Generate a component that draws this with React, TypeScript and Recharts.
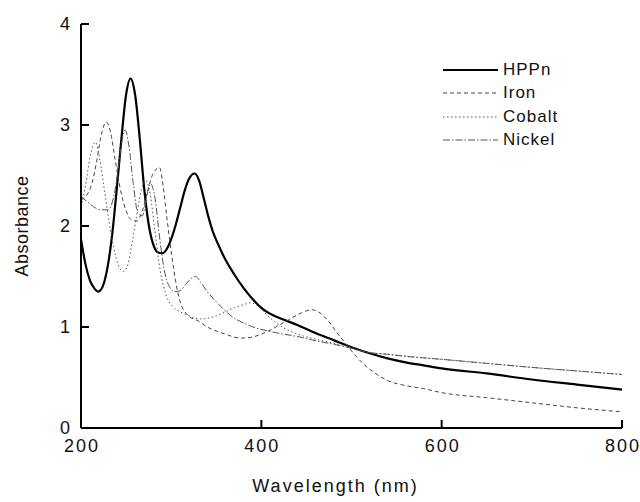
import React from 'react';
import { LineChart, Line, XAxis, YAxis } from 'recharts';

// wavelength (nm) / absorbance pairs
const hppnX = [200, 205, 210, 215, 219, 224, 230, 235, 240, 245, 250, 255, 260, 265, 270, 275, 280, 285, 290, 295, 300, 305, 310, 315, 320, 326, 331, 336, 341, 346, 352, 360, 370, 380, 390, 400, 410, 420, 440, 460, 480, 500, 520, 540, 560, 580, 600, 650, 700, 750, 800];
const hppnY = [1.87, 1.62, 1.46, 1.38, 1.35, 1.4, 1.62, 1.95, 2.4, 2.88, 3.3, 3.46, 3.3, 2.88, 2.38, 2.02, 1.82, 1.74, 1.73, 1.77, 1.87, 2.01, 2.18, 2.35, 2.47, 2.52, 2.45, 2.28, 2.1, 1.95, 1.82, 1.67, 1.52, 1.39, 1.28, 1.19, 1.13, 1.09, 1.02, 0.94, 0.87, 0.8, 0.74, 0.69, 0.65, 0.62, 0.59, 0.54, 0.48, 0.43, 0.38];

const ironX = [200, 206, 212, 217, 222, 228, 233, 238, 244, 250, 256, 262, 268, 274, 280, 287, 291, 295, 300, 305, 310, 318, 330, 340, 350, 360, 370, 378, 390, 400, 410, 420, 430, 440, 450, 457, 465, 475, 485, 495, 505, 515, 525, 540, 560, 580, 600, 650, 700, 750, 800];
const ironY = [2.26, 2.3, 2.42, 2.62, 2.88, 3.03, 2.92, 2.65, 2.35, 2.15, 2.06, 2.05, 2.15, 2.35, 2.52, 2.58, 2.4, 2.1, 1.75, 1.45, 1.25, 1.12, 1.06, 1.0, 0.96, 0.93, 0.9, 0.89, 0.9, 0.93, 0.97, 1.02, 1.07, 1.12, 1.16, 1.17, 1.14, 1.05, 0.93, 0.82, 0.71, 0.62, 0.55, 0.47, 0.42, 0.39, 0.35, 0.3, 0.25, 0.2, 0.16];

const cobaltX = [200, 205, 210, 216, 221, 226, 231, 236, 241, 247, 252, 257, 262, 267, 272, 277, 282, 288, 295, 302, 310, 318, 326, 334, 342, 350, 360, 370, 380, 388, 396, 405, 415, 425, 440, 460, 480, 500, 517, 540, 560, 600, 650, 700, 750, 800];
const cobaltY = [2.19, 2.4, 2.68, 2.83, 2.65, 2.35, 2.05, 1.8, 1.62, 1.55, 1.62, 1.85, 2.12, 2.36, 2.45, 2.3, 1.95, 1.55, 1.3, 1.2, 1.15, 1.12, 1.09, 1.08, 1.09, 1.11, 1.15, 1.19, 1.22, 1.24, 1.21, 1.13, 1.05, 0.99, 0.93, 0.88, 0.84, 0.8, 0.75, 0.73, 0.71, 0.68, 0.64, 0.6, 0.565, 0.53];

const nickelX = [200, 207, 214, 222, 230, 236, 241, 245, 249, 253, 258, 263, 268, 273, 277, 282, 287, 292, 298, 304, 310, 316, 322, 327, 333, 340, 350, 365, 385, 413, 443, 462, 480, 495, 517, 540, 560, 600, 650, 700, 750, 800];
const nickelY = [2.29, 2.24, 2.19, 2.16, 2.16, 2.28, 2.55, 2.82, 2.95, 2.8, 2.42, 2.13, 2.1, 2.3, 2.42, 2.28, 1.9, 1.58, 1.4, 1.35, 1.36, 1.42, 1.48, 1.5, 1.44, 1.35, 1.25, 1.12, 1.02, 0.95, 0.9, 0.86, 0.83, 0.8, 0.75, 0.73, 0.71, 0.68, 0.64, 0.6, 0.565, 0.53];

const xTicks = [200, 400, 600, 800];
const yTicks = [0, 1, 2, 3, 4];

const toPoints = (xs: number[], ys: number[]) => xs.map((x, i) => ({ x, y: ys[i] }));

const series = [
  { name: 'HPPn', data: toPoints(hppnX, hppnY), stroke: '#000', width: 2.2, dash: undefined },
  { name: 'Iron', data: toPoints(ironX, ironY), stroke: '#444', width: 1, dash: '4 3' },
  { name: 'Cobalt', data: toPoints(cobaltX, cobaltY), stroke: '#555', width: 1, dash: '1.5 2.5' },
  { name: 'Nickel', data: toPoints(nickelX, nickelY), stroke: '#555', width: 1, dash: '7 2 1.5 2' },
];

const font = '"Liberation Sans", Arial, sans-serif';

const YTick = (props: any) => {
  const { x, y, payload } = props;
  return (
    <g>
      <line x1={x} x2={x + 8} y1={y} y2={y} stroke="#000" strokeWidth={2} />
      <text x={x - 11} y={y} dy={6} textAnchor="end" fontSize={18} fill="#111" fontFamily={font}>
        {payload.value}
      </text>
    </g>
  );
};

const XTick = (props: any) => {
  const { x, y, payload } = props;
  return (
    <g>
      <line x1={x} x2={x} y1={y} y2={y - 8} stroke="#000" strokeWidth={2} />
      <text x={x + 1} y={y + 24} textAnchor="middle" fontSize={18} letterSpacing={2} fill="#111" fontFamily={font}>
        {payload.value}
      </text>
    </g>
  );
};

const App: React.FC = () => {
  return (
    <div style={{ position: 'absolute', left: 0, top: 0, width: 640, height: 502, background: '#fff' }}>
      <LineChart width={640} height={502} margin={{ top: 24, right: 18, left: 0, bottom: 0 }}>
        <XAxis
          dataKey="x"
          type="number"
          domain={[200, 800]}
          ticks={xTicks}
          allowDataOverflow
          height={74}
          tickSize={0}
          tickMargin={0}
          tick={XTick}
          axisLine={{ stroke: '#000', strokeWidth: 2 }}
          label={{
            content: (p: any) => {
              const vb = p.viewBox;
              return (
                <text x={vb.x + vb.width / 2 - 16} y={vb.y + 64} textAnchor="middle" fontSize={18} letterSpacing={2} fill="#111" fontFamily={font}>
                  Wavelength (nm)
                </text>
              );
            },
          }}
        />
        <XAxis
          xAxisId="top"
          orientation="top"
          type="number"
          domain={[200, 800]}
          height={0}
          tick={false}
          tickLine={false}
          axisLine={{ stroke: '#000', strokeWidth: 2 }}
        />
        <YAxis
          type="number"
          domain={[0, 4]}
          ticks={yTicks}
          width={81}
          tickSize={0}
          tickMargin={0}
          tick={YTick}
          axisLine={{ stroke: '#000', strokeWidth: 2 }}
          label={{
            content: (p: any) => {
              const vb = p.viewBox;
              const cx = vb.x + 22;
              const cy = vb.y + vb.height / 2;
              return (
                <text x={cx} y={cy} transform={`rotate(-90, ${cx}, ${cy})`} textAnchor="middle" dy={6} fontSize={18} letterSpacing={0.5} fill="#111" fontFamily={font}>
                  Absorbance
                </text>
              );
            },
          }}
        />
        <YAxis
          yAxisId="right"
          orientation="right"
          type="number"
          domain={[0, 4]}
          width={0}
          tick={false}
          tickLine={false}
          axisLine={{ stroke: '#000', strokeWidth: 2 }}
        />
        {series.map((s) => (
          <Line
            key={s.name}
            data={s.data}
            dataKey="y"
            name={s.name}
            type="monotone"
            dot={false}
            stroke={s.stroke}
            strokeWidth={s.width}
            strokeDasharray={s.dash}
            isAnimationActive={false}
          />
        ))}
      </LineChart>
      <div style={{ position: 'absolute', left: 443, top: 58, fontFamily: font, fontSize: 17, letterSpacing: 1, color: '#111' }}>
        {series.map((s) => (
          <div key={s.name} style={{ display: 'flex', alignItems: 'center', height: 23.5 }}>
            <svg width={56} height={10} style={{ marginRight: 4 }}>
              <line x1={0} x2={55} y1={5} y2={5} stroke={s.stroke} strokeWidth={s.width} strokeDasharray={s.dash} />
            </svg>
            <span>{s.name}</span>
          </div>
        ))}
      </div>
    </div>
  );
};

export default App;
